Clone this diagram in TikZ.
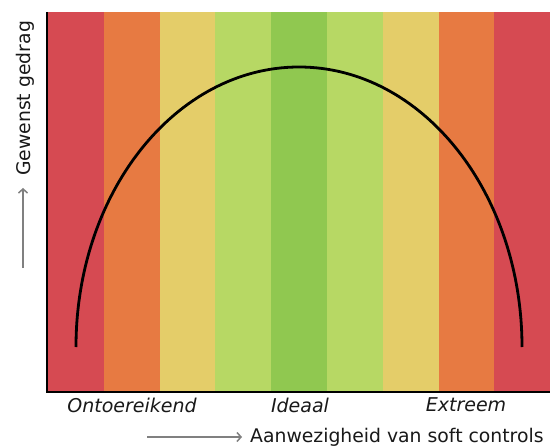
\documentclass[tikz,border=0pt]{standalone}
\usepackage{fontspec}
\setmainfont{DejaVu Sans}
\usetikzlibrary{arrows.meta}
\definecolor{cred}{RGB}{214,74,82}
\definecolor{corange}{RGB}{231,122,66}
\definecolor{cyellow}{RGB}{228,205,105}
\definecolor{clgreen}{RGB}{183,216,100}
\definecolor{cgreen}{RGB}{144,200,80}
\tikzset{
  band/.style={fill=#1, draw=none},
  axisline/.style={draw=black, line width=2pt},
  curveline/.style={draw=black, line width=2.8pt},
  pointer/.style={draw=gray, line width=1.6pt, -{Straight Barb[length=4pt,width=9pt,line width=1.5pt]}},
  lab/.style={font=\fontsize{19}{22}\selectfont\itshape, text=black!90, inner sep=0pt},
  axlab/.style={font=\fontsize{18.8}{22}\selectfont, text=black!90, inner sep=0pt}
}
\begin{document}
\begin{tikzpicture}[x=1pt,y=-1pt]
\useasboundingbox (0,0) rectangle (551,446);
\fill[white] (0,0) rectangle (551,446);
% stripes
\foreach \i/\c in {0/cred,1/corange,2/cyellow,3/clgreen,4/cgreen,5/clgreen,6/cyellow,7/corange,8/cred}{
  \fill[band=\c] ({48+\i*55.8},12) rectangle ({48+(\i+1)*55.8},392);
}
% curve
\draw[curveline] (76,347) arc[start angle=180, end angle=0, x radius=223, y radius=-280];
% axes
\coordinate (top) at (47,12);
\coordinate (origin) at (47,392);
\coordinate (xend) at (550,392);
\draw[axisline] (top) -- (origin) -- (xend);
% category labels
\node[lab] (lo) at (132,405) {Ontoereikend};
\node[lab] (li) at (300,405) {Ideaal};
\node[lab] (le) at (466,405) {Extreem};
% axis labels
\node[axlab, anchor=west] (xl) at (250,437) {Aanwezigheid van soft controls};
\coordinate (xs) at (147,437);
\draw[pointer] (xs) -- ([xshift=-8pt]xl.west);
\node[axlab, rotate=90, anchor=west] (yl) at (25,176) {Gewenst gedrag};
\coordinate (ys) at (23,268);
\draw[pointer] (ys) -- (23,188);
\end{tikzpicture}
\end{document}
